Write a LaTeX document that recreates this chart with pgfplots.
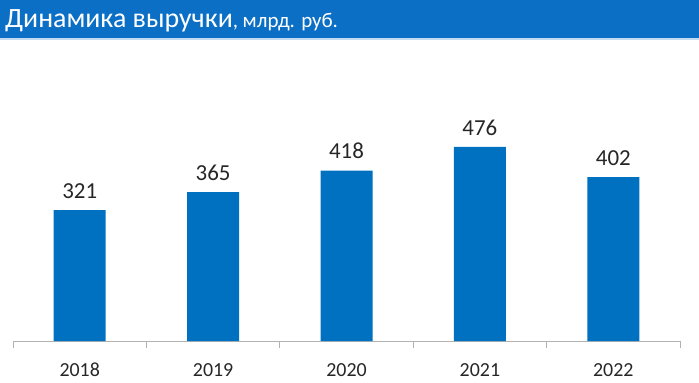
\documentclass[border=0pt]{standalone}
\usepackage{fontspec}
\setmainfont{Carlito}
\usepackage{pgfplots}
\pgfplotsset{compat=1.18}
\definecolor{barblue}{HTML}{0070C0}
\definecolor{titleblue}{HTML}{0B6FC6}
\definecolor{lbl}{HTML}{262626}
\begin{document}
\begin{tikzpicture}[x=1bp,y=1bp]
\path[use as bounding box] (0,0) rectangle (699,382);
\fill[titleblue] (0,344) rectangle (699,382);
\draw[line width=1.5bp, color=titleblue!25] (0,343) -- (699,343);
\node[anchor=base west, text=white, inner sep=0] at (5,355) {\fontsize{28}{32}\selectfont Динамика выручки\fontsize{21}{24}\selectfont, млрд. руб.};
\begin{axis}[at={(13bp,41bp)}, anchor=south west, scale only axis,
  width=667bp, height=281bp,
  xmin=-0.5, xmax=4.5, ymin=0, ymax=689,
  axis x line*=bottom, axis y line=none,
  x axis line style={draw=gray!60, line width=0.8bp, -},
  xtick={0,1,2,3,4},
  xticklabels={2018,2019,2020,2021,2022},
  major tick length=0pt,
  minor xtick={-0.5,0.5,1.5,2.5,3.5,4.5},
  minor tick length=7bp,
  tick align=outside,
  minor tick style={draw=gray!60, line width=0.8bp},
  xticklabel style={font=\fontsize{20}{22}\selectfont, text=lbl, anchor=center, inner sep=0pt, yshift=-29bp},
  ybar, bar width=52bp,
  nodes near coords,
  nodes near coords style={font=\fontsize{23}{26}\selectfont, text=lbl, yshift=8bp},
  /pgf/number format/assume math mode=true,
  clip=false,
]
\addplot[fill=barblue, draw=none] coordinates {(0,321) (1,365) (2,418) (3,476) (4,402)};
\end{axis}
\end{tikzpicture}
\end{document}
